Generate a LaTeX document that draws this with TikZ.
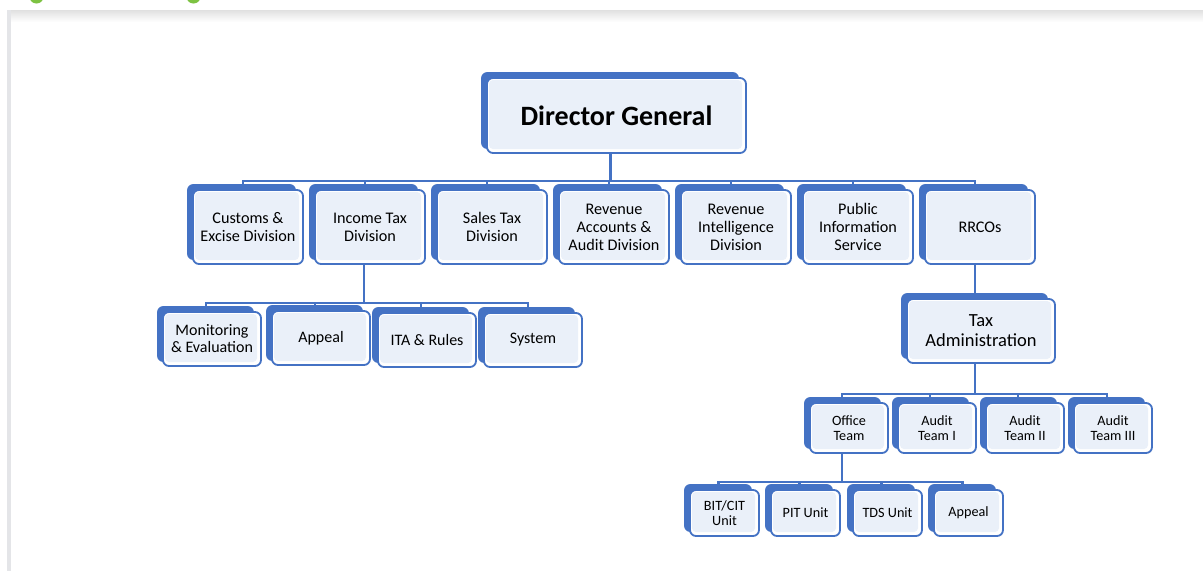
\documentclass[tikz,border=0pt]{standalone}
\usepackage{fontspec}
\setmainfont{Carlito}
\usetikzlibrary{backgrounds}
\pgfdeclarelayer{connlayer}
\pgfsetlayers{connlayer,background,main}
\definecolor{bl}{HTML}{4472C4}
\definecolor{lt}{HTML}{EAF0F9}
\definecolor{frm}{HTML}{E4E5E8}
\definecolor{grn}{HTML}{7DC242}
\newcommand\myfsDG{\fontsize{28}{32}\selectfont\bfseries}
\newcommand\myfsA{\fontsize{16.2}{18}\selectfont}
\newcommand\myfsB{\fontsize{16}{17}\selectfont}
\newcommand\myfsT{\fontsize{18.5}{20}\selectfont}
\newcommand\myfsC{\fontsize{14.2}{15}\selectfont}
\tikzset{
  orgbox/.style={rectangle, rounded corners=6pt, draw=bl, line width=1.8pt, fill=white,
    inner sep=0pt, align=center, text=black,
    path picture={\fill[lt, rounded corners=4pt]
      ([shift={(2pt,-2pt)}]path picture bounding box.north west) rectangle
      ([shift={(-4pt,4pt)}]path picture bounding box.south east);}},
  conn/.style={draw=bl, line width=2.3pt},
  shadowfill/.style={fill=bl, rounded corners=6pt},
}
\newcommand\obox[7]{%
  \node[orgbox, font=#6, minimum width={#4-#2}, minimum height={#5-#3}] (#1) at ({(#2+#4)/2},{(#3+#5)/2}) {#7};
  \begin{scope}[on background layer]
    \fill[shadowfill] ([shift={(-5pt,5pt)}]#1.north west) rectangle ([shift={(-8pt,5pt)}]#1.south east);
  \end{scope}}
\begin{document}
\begin{tikzpicture}[x=1pt,y=-1pt]
\useasboundingbox (0,0) rectangle (1203,571);
% frame
\begin{pgfonlayer}{connlayer}
\fill[white] (0,0) rectangle (1203,571);
\shade[top color=black!12, bottom color=white] (11,10) rectangle (1203,22);
\fill[frm] (7,10) rectangle (11,571);
\begin{scope}
  \clip (0,0) rectangle (1203,3.5);
  \fill[grn] (36.5,-2) ellipse (6.5 and 5.5);
  \fill[grn] (193.5,-2) ellipse (6.5 and 5.5);
\end{scope}
\end{pgfonlayer}
% boxes
\obox{dg}{487}{78}{746}{153}{\myfsDG}{Director General}
\obox{c1}{193}{190}{303}{264}{\myfsA}{Customs \&\\Excise Division}
\obox{c2}{315}{190}{425}{264}{\myfsA}{Income Tax\\Division}
\obox{c3}{437}{190}{547}{264}{\myfsA}{Sales Tax\\Division}
\obox{c4}{559}{190}{669}{264}{\myfsA}{Revenue\\Accounts \&\\Audit Division}
\obox{c5}{681}{190}{791}{264}{\myfsA}{Revenue\\Intelligence\\Division}
\obox{c6}{803}{190}{913}{264}{\myfsA}{Public\\Information\\Service}
\obox{c7}{925}{190}{1035}{264}{\myfsA}{RRCOs}
\obox{i1}{163}{312}{261}{366}{\myfsB}{Monitoring\\\& Evaluation}
\obox{i2}{272}{311}{370}{365}{\myfsB}{Appeal}
\obox{i3}{378}{313}{476}{367}{\myfsB}{ITA \& Rules}
\obox{i4}{484}{313}{582}{367}{\myfsB}{System}
\obox{ta}{907}{299}{1055}{363}{\myfsT}{Tax\\Administration}
\obox{t1}{810}{403}{888}{453}{\myfsC}{Office\\Team}
\obox{t2}{898}{403}{976}{453}{\myfsC}{Audit\\Team I}
\obox{t3}{986}{403}{1064}{453}{\myfsC}{Audit\\Team II}
\obox{t4}{1074}{403}{1152}{453}{\myfsC}{Audit\\Team III}
\obox{u1}{690}{490}{759}{536}{\myfsC}{BIT/CIT\\Unit}
\obox{u2}{771}{490}{840}{536}{\myfsC}{PIT Unit}
\obox{u3}{853}{490}{922}{536}{\myfsC}{TDS Unit}
\obox{u4}{934}{490}{1003}{536}{\myfsC}{Appeal}
% connectors
\begin{pgfonlayer}{connlayer}
\coordinate (busA) at (0,181);
\coordinate (busB) at (0,303);
\coordinate (busC) at (0,394);
\coordinate (busD) at (0,482);
\draw[conn] ([xshift=-6pt]dg.south) -- ([xshift=-6pt]dg.south |- busA);
\draw[conn] ([xshift=-5pt]c1.north) -- ([xshift=-5pt]c1.north |- busA) -- ([xshift=-5pt]c7.north |- busA) -- ([xshift=-5pt]c7.north);
\foreach \n in {c2,c3,c4,c5,c6}{\draw[conn] ([xshift=-5pt]\n.north) -- ([xshift=-5pt]\n.north |- busA);}
\draw[conn] ([xshift=-6pt]c2.south) -- ([xshift=-6pt]c2.south |- busB);
\draw[conn] ([xshift=-6pt]i1.north) -- ([xshift=-6pt]i1.north |- busB) -- ([xshift=-5pt]i4.north |- busB) -- ([xshift=-5pt]i4.north);
\foreach \n in {i2,i3}{\draw[conn] ([xshift=-6pt]\n.north) -- ([xshift=-6pt]\n.north |- busB);}
\draw[conn] ([xshift=-5pt]c7.south) -- ([xshift=-5pt]c7.south |- ta.north);
\draw[conn] ([xshift=-6pt]ta.south) -- ([xshift=-6pt]ta.south |- busC);
\draw[conn] ([xshift=-7pt]t1.north) -- ([xshift=-7pt]t1.north |- busC) -- ([xshift=-6pt]t4.north |- busC) -- ([xshift=-6pt]t4.north);
\foreach \n in {t2,t3}{\draw[conn] ([xshift=-7pt]\n.north) -- ([xshift=-7pt]\n.north |- busC);}
\draw[conn] ([xshift=-7pt]t1.south) -- ([xshift=-7pt]t1.south |- busD);
\draw[conn] ([xshift=-6pt]u1.north) -- ([xshift=-6pt]u1.north |- busD) -- ([xshift=-6pt]u4.north |- busD) -- ([xshift=-6pt]u4.north);
\foreach \n in {u2,u3}{\draw[conn] ([xshift=-6pt]\n.north) -- ([xshift=-6pt]\n.north |- busD);}
\end{pgfonlayer}
\end{tikzpicture}
\end{document}
